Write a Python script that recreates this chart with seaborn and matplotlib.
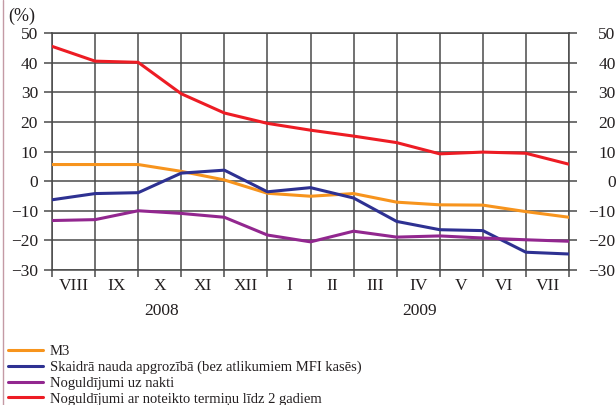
import numpy as np
import pandas as pd
import matplotlib
matplotlib.use("Agg")
import matplotlib.pyplot as plt
from matplotlib.lines import Line2D
from matplotlib.ticker import FixedLocator, NullFormatter
import seaborn as sns

months = ["VIII", "IX", "X", "XI", "XII", "I", "II", "III", "IV", "V", "VI", "VII"]
years = ["2008", "2009"]
series_names = [
    "M3",
    "Skaidrā nauda apgrozībā (bez atlikumiem MFI kasēs)",
    "Noguldījumi uz nakti",
    "Noguldījumi ar noteikto termiņu līdz 2 gadiem",
]
m3 = [5.6, 5.6, 5.6, 3.3, 0.4, -4.1, -5.1, -4.2, -7.1, -8.0, -8.1, -10.3, -12.2]
cash = [-6.3, -4.2, -3.9, 2.7, 3.7, -3.6, -2.2, -5.7, -13.6, -16.4, -16.7, -24.0, -24.6]
overnight = [-13.3, -13.0, -10.0, -10.9, -12.2, -18.2, -20.5, -16.9, -18.9, -18.5, -19.2, -19.8, -20.3]
term = [45.5, 40.5, 40.1, 29.5, 23.0, 19.5, 17.2, 15.2, 13.0, 9.2, 9.8, 9.4, 5.7]
yticks = [-30, -20, -10, 0, 10, 20, 30, 40, 50]

colors = ["#F7941D", "#2E3192", "#92278F", "#ED1C24"]

sns.set_theme(style="white")
plt.rcParams["font.family"] = ["Liberation Serif", "DejaVu Serif"]
plt.rcParams["axes.unicode_minus"] = True

n = len(m3)
rows = []
for name, vals in zip(series_names, [m3, cash, overnight, term]):
    for i, v in enumerate(vals):
        rows.append({"x": i, "value": v, "series": name})
df = pd.DataFrame(rows)

fig = plt.figure(figsize=(6.16, 4.05), dpi=100)
ax = fig.add_axes([52 / 616, 1 - 270 / 405, (569 - 52) / 616, (270 - 33) / 405])

sns.lineplot(data=df, x="x", y="value", hue="series", hue_order=series_names,
             palette=colors, linewidth=2.2, ax=ax, legend=False, zorder=3)

ax.set_xlim(0, n - 1)
ax.set_ylim(-30, 50)
ax.set_xlabel("")
ax.set_ylabel("")

grid_c = "#4a4a4a"
tick_fs = 12.5
txt_c = "#231f20"
ax.xaxis.set_major_locator(FixedLocator(list(range(n))))
ax.xaxis.set_major_formatter(NullFormatter())
ax.xaxis.set_minor_locator(FixedLocator([i + 0.5 for i in range(len(months))]))
ax.set_xticklabels(months, minor=True)
ax.tick_params(axis="x", which="major", direction="out", length=5, width=1.1, color=grid_c, bottom=True)
ax.tick_params(axis="x", which="minor", length=0, pad=6, labelsize=tick_fs, labelcolor=txt_c)

ax.set_yticks(yticks)
ax.tick_params(axis="y", which="major", direction="out", length=6, width=1.1, color=grid_c,
               left=True, pad=4, labelsize=tick_fs, labelcolor=txt_c)

ax.grid(True, which="major", color=grid_c, linewidth=1.1, zorder=1)
ax.set_axisbelow(True)
for s in ax.spines.values():
    s.set_color(grid_c)
    s.set_linewidth(1.1)

ax2 = ax.twinx()
ax2.set_ylim(-30, 50)
ax2.set_yticks(yticks)
ax2.tick_params(axis="y", direction="out", length=6, width=1.1, color=grid_c, right=True,
                pad=27.5, labelsize=tick_fs, labelcolor=txt_c)
for lab in ax2.get_yticklabels():
    lab.set_horizontalalignment("right")
for s in ax2.spines.values():
    s.set_visible(False)

fig.text(162 / 616, 1 - 311 / 405, years[0], ha="center", va="center", fontsize=tick_fs, color=txt_c)
fig.text(420 / 616, 1 - 311 / 405, years[1], ha="center", va="center", fontsize=tick_fs, color=txt_c)
fig.text(8 / 616, 1 - 16 / 405, "(%)", ha="left", va="center", fontsize=13, color=txt_c)

handles = [Line2D([0], [0], color=c, linewidth=2.2) for c in colors]
fig.legend(handles, series_names, loc="upper left", bbox_to_anchor=(8 / 616, 1 - 344.5 / 405),
           frameon=False, borderpad=0, borderaxespad=0, handlelength=2.4, handletextpad=0.45,
           labelspacing=0.18, fontsize=10.5, labelcolor=txt_c)

fig.add_artist(Line2D([3 / 616, 3 / 616], [0, 1], transform=fig.transFigure, color="#c49aa5", linewidth=1.0))

fig.savefig("out.png", dpi=100)
